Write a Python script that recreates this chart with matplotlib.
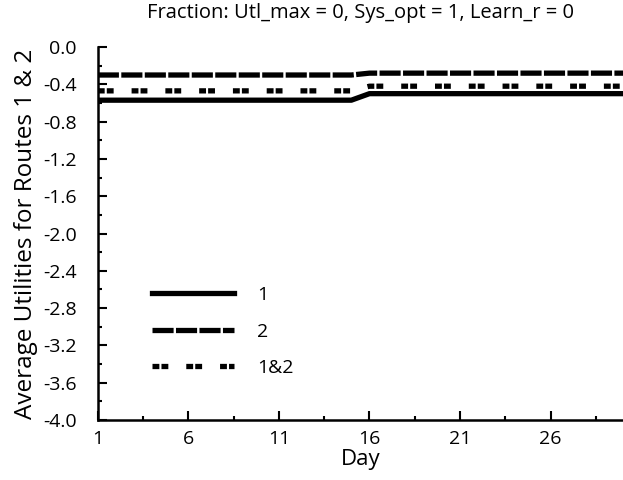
import numpy as np
import matplotlib.pyplot as plt

# daily average utilities
days = list(range(1, 31))
route1 = [-0.57] * 15 + [-0.50] * 15
route2 = [-0.30] * 15 + [-0.28] * 15
both = [-0.47] * 15 + [-0.42] * 15

plt.rcParams['font.family'] = ['Open Sans', 'DejaVu Sans']

fig = plt.figure(figsize=(6.23, 4.8), dpi=100)
ax = fig.add_axes([0.157, 0.125, 0.843, 0.777])

ax.plot(days, route1, color='black', lw=3.8, label='1')
ax.plot(days, route2, color='black', lw=3.8, dashes=(4.0, 0.45), label='2')
ax.plot(days, both, color='black', lw=3.8, dashes=(1.3, 0.4, 1.3, 3.4), label='1&2')

ax.set_xlim(1, 30)
ax.set_ylim(-4.0, 0.0)
ax.set_xticks([1, 6, 11, 16, 21, 26])
ax.set_xticks(np.arange(3.5, 30, 5), minor=True)
yt = np.round(np.arange(-4.0, 0.01, 0.4), 1)
ax.set_yticks(yt)
ax.set_yticks(np.arange(-3.8, 0, 0.4), minor=True)
ax.set_yticklabels([f'{abs(v):.1f}' if v == 0 else f'{v:.1f}' for v in yt])
ax.tick_params(direction='in', length=6.5, width=1.5, labelsize=14)
ax.tick_params(axis='y', pad=15)
ax.tick_params(axis='x', pad=7)
ax.tick_params(which='minor', direction='in', length=3.2, width=1.5)

for s in ['top', 'right']:
    ax.spines[s].set_visible(False)
for s in ['left', 'bottom']:
    ax.spines[s].set_linewidth(1.8)

ax.set_xlabel('Day', fontsize=16, labelpad=1)
ax.set_ylabel('Average Utilities for Routes 1 & 2', fontsize=17.5, labelpad=4)
ax.set_title('Fraction: Utl_max = 0, Sys_opt = 1, Learn_r = 0', fontsize=14.5, pad=21)

ax.legend(loc='lower left', bbox_to_anchor=(0.07, 0.068), frameon=False,
          fontsize=14, handlelength=4.2, handletextpad=1.2, labelspacing=0.95)

fig.savefig('out.png', dpi=100)
